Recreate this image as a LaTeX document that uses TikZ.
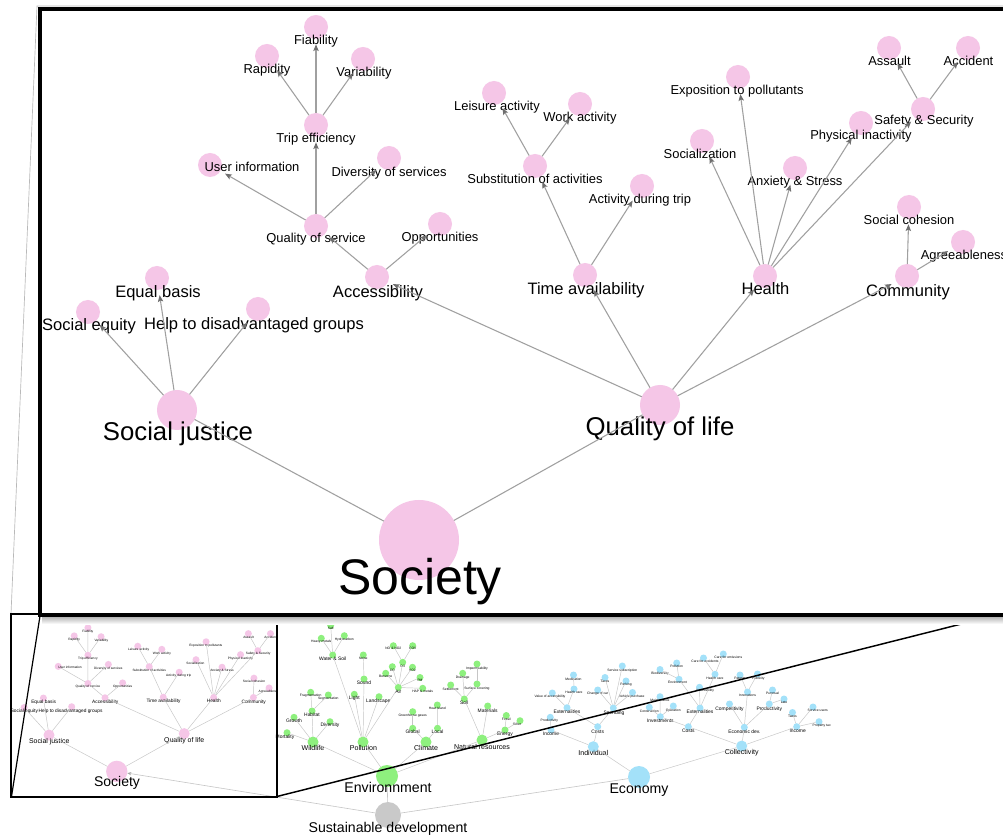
\documentclass[tikz,border=0pt]{standalone}
\usepackage{fontspec}
\setmainfont{Liberation Sans}
\usetikzlibrary{arrows.meta}
\definecolor{pk}{HTML}{F5C6E7}
\definecolor{gr}{HTML}{8EF07E}
\definecolor{bl}{HTML}{A3E1F9}
\definecolor{sdg}{HTML}{C9C9C9}
\definecolor{edg}{HTML}{A0A0A0}
\definecolor{tipc}{HTML}{6E6E6E}
\newcommand\fs[1]{\fontsize{#1}{#1}\selectfont}
\newcommand\tn[6]{\node[#1] (#2) at (#3) {}; \node[#4] at (#5) {#6};}
\tikzset{
  dot/.style={circle, inner sep=0pt, outer sep=0pt, draw=none},
  lbl/.style={inner sep=0pt, anchor=base, font=\fs{#1}, yshift=-0.33*#1, text=black},
  % big tree styles
  c0/.style={dot, fill=pk, minimum size=60pt},
  c1/.style={dot, fill=pk, minimum size=30pt},
  c2/.style={dot, fill=pk, minimum size=18pt},
  l0/.style={lbl=37.5pt},
  l1/.style={lbl=19.3pt},
  l2/.style={lbl=12.4pt},
  l3/.style={lbl=9.7pt},
  ed0/.style={draw=edg, line width=0.8pt},
  ed/.style={draw=edg, line width=0.8pt, -{Stealth[length=5pt,width=4pt,inset=1pt,color=tipc]}, shorten >=4pt},
  % overview styles
  sdc/.style={dot, fill=sdg, minimum size=19.5pt},
  g0/.style={dot, fill=gr, minimum size=16.5pt},
  g1/.style={dot, fill=gr, minimum size=8.25pt},
  g2/.style={dot, fill=gr, minimum size=5.25pt},
  b0/.style={dot, fill=bl, minimum size=16.5pt},
  b1/.style={dot, fill=bl, minimum size=8.25pt},
  b2/.style={dot, fill=bl, minimum size=5.25pt},
  o0/.style={lbl=10.6pt},
  o1/.style={lbl=5.3pt},
  o2/.style={lbl=3.7pt},
  o3/.style={lbl=2.5pt},
  oe/.style={draw=gray!45, line width=0.35pt},
}
\newcommand\SocTree{%
\tn{c0}{soc}{419,540}{l0}{420,578}{Society}
\tn{c1}{sj}{177,410}{l1}{178,432}{Social justice}
\tn{c1}{ql}{660,405}{l1}{660,427}{Quality of life}
\tn{c2}{seq}{88,312}{l2}{89,325}{Social equity}
\tn{c2}{eqb}{157,278}{l2}{158,292}{Equal basis}
\tn{c2}{hlp}{258,309}{l2}{254,324}{Help to disadvantaged groups}
\tn{c2}{acc}{377,277}{l2}{378,292}{Accessibility}
\tn{c2}{tav}{585,275}{l2}{586,289}{Time availability}
\tn{c2}{hea}{765,276}{l2}{765.5,289.5}{Health}
\tn{c2}{com}{907,276}{l2}{908,291}{Community}
\tn{c2}{qos}{316,226}{l3}{316,238}{Quality of service}
\tn{c2}{opp}{440,224}{l3}{440,237}{Opportunities}
\tn{c2}{uin}{210,165}{l3}{252,167}{User information}
\tn{c2}{dos}{389,158}{l3}{389,172}{Diversity of services}
\tn{c2}{tef}{316,125}{l3}{316,138}{Trip efficiency}
\tn{c2}{rap}{267,56}{l3}{267,69}{Rapidity}
\tn{c2}{fia}{316,27}{l3}{316,40}{Fiability}
\tn{c2}{var}{363,59}{l3}{364,72}{Variability}
\tn{c2}{sub}{535,166}{l3}{535,179}{Substitution of activities}
\tn{c2}{adt}{642,186}{l3}{640,199}{Activity during trip}
\tn{c2}{lei}{494,93}{l3}{497,106}{Leisure activity}
\tn{c2}{wor}{580,104}{l3}{580,117}{Work activity}
\tn{c2}{exq}{738,77}{l3}{737,90}{Exposition to pollutants}
\tn{c2}{soz}{702,141}{l3}{700,154}{Socialization}
\tn{c2}{anx}{795,168}{l3}{795,181}{Anxiety \& Stress}
\tn{c2}{phy}{861,123}{l3}{861,135.5}{Physical inactivity}
\tn{c2}{saf}{923,109}{l3}{924,120}{Safety \& Security}
\tn{c2}{ass}{889,48}{l3}{889.5,61.5}{Assault}
\tn{c2}{acd}{968,48}{l3}{968.5,61.5}{Accident}
\tn{c2}{coh}{909,207}{l3}{909,220}{Social cohesion}
\tn{c2}{agr}{963,242}{l3}{964,255}{Agreeableness}
\draw[ed0] (soc) -- (sj);
\draw[ed0] (soc) -- (ql);
\foreach \a/\b in {sj/seq,sj/eqb,sj/hlp,ql/acc,ql/tav,ql/hea,ql/com,acc/qos,acc/opp,qos/uin,qos/dos,qos/tef,tef/rap,tef/fia,tef/var,tav/sub,tav/adt,sub/lei,sub/wor,hea/exq,hea/soz,hea/anx,hea/phy,hea/saf,saf/ass,saf/acd,com/coh,com/agr}{\draw[ed] (\a) -- (\b);}
}
\begin{document}
\begin{tikzpicture}[x=0.75pt,y=-0.75pt]
\useasboundingbox[fill=white] (0,0) rectangle (1003,837);
% faint outer frame / upper connector
\draw[gray!55, line width=0.5pt] (11,614) -- (37,6) -- (1003,6);
% ---------- Environment ----------
\tn{g0}{env}{387,776}{o0}{388,788}{Environnment}
\tn{g1}{wil}{313,742}{o1}{313,748}{Wildlife}
\tn{g1}{pol}{363,742}{o1}{363.5,748}{Pollution}
\tn{g1}{cli}{426,742}{o1}{426,748}{Climate}
\tn{g1}{nat}{482,740}{o1}{482,747}{Natural resources}
\tn{g2}{mor}{287,732.7}{o2}{285,736.7}{Mortality}
\tn{g2}{gro}{294,717.3}{o2}{294,721}{Growth}
\tn{g2}{hab}{312,711}{o2}{312,714.5}{Habitat}
\tn{g2}{div}{330,721.7}{o2}{330,725}{Diversity}
\tn{g2}{fra}{310.7,692.3}{o3}{310.7,695}{Fragmentation}
\tn{g2}{seg}{328.3,695}{o3}{328.3,698.3}{Segmentation}
\tn{g2}{ws}{332.7,655}{o2}{332.7,659.3}{Water \& Soil}
\tn{g2}{lig}{354.3,694.3}{o2}{354.3,698}{Light}
\tn{g2}{sou}{364,679}{o2}{364,683}{Sound}
\tn{g2}{lan}{379,696.7}{o2}{378.3,701}{Landscape}
\tn{g2}{air}{398.3,687.5}{o2}{398.3,691.7}{Air}
\tn{g2}{salt}{330.7,625.5}{o3}{330.7,628.5}{Salt}
\tn{g2}{hm}{321.3,638.3}{o3}{321.3,641.7}{Heavy metals}
\tn{g2}{hyd}{344.3,635.7}{o3}{344.3,639}{Hydrocarbon}
\tn{g2}{noi}{363.3,655}{o3}{363.3,658.3}{Noise}
\tn{g2}{ozo}{402.7,662.3}{o3}{402.7,666.7}{O3}
\tn{g2}{cmo}{392.3,666.7}{o3}{392.3,670}{CO}
\tn{g2}{ben}{385.7,673.3}{o3}{385.7,676.3}{Benzene}
\tn{g2}{sox}{412.5,667.3}{o3}{412.5,670.5}{SO2}
\tn{g2}{pm}{420,677.5}{o3}{420,680.7}{PM}
\tn{g2}{hap}{422.7,688.3}{o3}{422.7,691.7}{HAP \& metals}
\tn{g2}{nox}{393.3,645.7}{o3}{393.3,648.7}{NO \& NO2}
\tn{g2}{cov}{412.7,645.7}{o3}{412.7,648.7}{COV}
\tn{g2}{glo}{412.7,728.3}{o2}{412.7,732}{Global}
\tn{g2}{loc}{437.5,728.3}{o2}{437.5,732.3}{Local}
\tn{g2}{ghg}{412.7,711.7}{o3}{412.7,715.5}{Greenhouse gases}
\tn{g2}{hi}{437.3,705}{o3}{437.3,708.5}{Heat island}
\tn{g2}{soi}{464.3,699}{o2}{464.3,703.3}{Soil}
\tn{g2}{mat}{487.7,706}{o2}{487.7,710.5}{Materials}
\tn{g2}{ene}{505,730}{o2}{505,734}{Energy}
\tn{g2}{set}{450.7,685}{o3}{450.7,689.3}{Settlement}
\tn{g2}{dra}{462.7,673.3}{o3}{462.7,677}{Drainage}
\tn{g2}{suc}{477,684}{o3}{477,688.3}{Surface covering}
\tn{g2}{imp}{477,664}{o3}{477,668.3}{Impermeability}
\tn{g2}{fos}{506.3,715.5}{o3}{506.3,719}{Fossil}
\tn{g2}{oth}{520,720.7}{o3}{517,724}{Other}
\foreach \a/\b in {env/wil,env/pol,env/cli,env/nat,wil/mor,wil/gro,wil/hab,wil/div,hab/fra,hab/seg,pol/ws,pol/lig,pol/sou,pol/lan,pol/air,ws/salt,ws/hm,ws/hyd,sou/noi,air/ozo,air/cmo,air/ben,air/sox,air/pm,air/hap,ozo/nox,ozo/cov,cli/glo,cli/loc,glo/ghg,loc/hi,nat/soi,nat/mat,nat/ene,soi/set,soi/dra,soi/suc,suc/imp,ene/fos,ene/oth}{\draw[oe] (\a) -- (\b);}
% ---------- Economy ----------
\tn{b0}{eco}{639,777}{o0}{639,789}{Economy}
\tn{b1}{ind}{593.3,746.7}{o1}{593.3,753.3}{Individual}
\tn{b1}{col}{741.7,746}{o1}{741.7,752.3}{Collectivity}
\tn{b2}{inc}{551,730}{o2}{551,734}{Income}
\tn{b2}{cos}{597.7,726.7}{o2}{597.7,731.5}{Costs}
\tn{b2}{pro}{550.3,717.3}{o3}{549.3,720.5}{Productivity}
\tn{b2}{ext}{567,707.7}{o2}{567,712}{Externalities}
\tn{b2}{spe}{613.3,708}{o2}{614,712.7}{Spending}
\tn{b2}{voa}{552.3,693}{o3}{550,696.7}{Value of accessibility}
\tn{b2}{hc}{574,689}{o3}{574,692.3}{Health care}
\tn{b2}{med}{573.5,675}{o3}{573.5,679.3}{Medication}
\tn{b2}{chg}{597.7,690}{o3}{597.7,693.3}{Change of car}
\tn{b2}{tx1}{605,677.5}{o3}{605,681.5}{Taxes}
\tn{b2}{ssb}{622.3,666}{o3}{622.3,670}{Service subscription}
\tn{b2}{prk}{626,681}{o3}{626,684.3}{Parking}
\tn{b2}{veh}{632.5,692.5}{o3}{631.7,696}{Vehicle purchase}
\tn{b2}{cco}{688.3,726.7}{o2}{688.3,730.7}{Costs}
\tn{b2}{edv}{744.3,727.3}{o2}{744.3,732.3}{Economic dev.}
\tn{b2}{cin}{796.7,726.7}{o2}{797.7,731}{Income}
\tn{b2}{inv}{660.3,716.7}{o2}{660.3,720.7}{Investments}
\tn{b2}{cex}{700,708}{o2}{700,712}{Externalities}
\tn{b2}{con}{649.3,707.3}{o3}{649.3,711}{Construction}
\tn{b2}{ope}{673.3,706}{o3}{673.3,710}{Operation}
\tn{b2}{mai}{660,696.7}{o3}{660,700}{Maintenance}
\tn{b2}{cen}{679,679.3}{o3}{677.5,682.7}{Environment}
\tn{b2}{chc}{715,674.3}{o3}{715,678.3}{Health care}
\tn{b2}{cac}{699.5,687.3}{o3}{705,690.7}{Accessibility}
\tn{b2}{cpo}{676.7,663}{o3}{676.7,666.5}{Pollution}
\tn{b2}{cbi}{660,669.5}{o3}{660,673.3}{Biodiversity}
\tn{b2}{caa}{703.5,658}{o3}{705,661.7}{Care for accidents}
\tn{b2}{cae}{723.3,654}{o3}{728.3,657.3}{Care for emissions}
\tn{b2}{cmp}{729.5,704}{o2}{729.5,708.5}{Competitivity}
\tn{b2}{cinn}{747.5,692}{o3}{747.5,695.5}{Innovations}
\tn{b2}{cpr}{769.3,704}{o2}{769.3,708.5}{Productivity}
\tn{b2}{pat}{740,675}{o3}{740,678.5}{Patents}
\tn{b2}{pub}{757.5,674}{o3}{758.3,678}{Publicity}
\tn{b2}{pun}{772.5,690}{o3}{772.5,693.3}{Punctual}
\tn{b2}{lat}{784,699}{o3}{784,702.3}{Late}
\tn{b2}{tax}{792.5,712.5}{o3}{792.5,716.7}{Taxes}
\tn{b2}{svu}{813,707}{o3}{817.7,710.7}{Service users}
\tn{b2}{ptx}{819,721.7}{o3}{821.7,725.7}{Property tax}
\foreach \a/\b in {eco/ind,eco/col,ind/inc,ind/cos,inc/pro,cos/ext,cos/spe,ext/voa,ext/hc,hc/med,spe/chg,spe/tx1,spe/ssb,spe/prk,spe/veh,col/cco,col/edv,col/cin,cco/inv,cco/cex,inv/con,inv/ope,inv/mai,cex/cen,cex/chc,cex/cac,cen/cpo,cen/cbi,chc/caa,chc/cae,edv/cmp,edv/cinn,edv/cpr,cinn/pat,cinn/pub,cpr/pun,cpr/lat,cin/tax,cin/svu,cin/ptx}{\draw[oe] (\a) -- (\b);}
% ---------- mini society ----------
\begin{scope}
\clip (11,614) rectangle (277,797);
\begin{scope}[shift={(-0.56,620.2)}, scale=0.28, name prefix=m-,
  c0/.style={dot, fill=pk, minimum size=16pt},
  c1/.style={dot, fill=pk, minimum size=8.25pt},
  c2/.style={dot, fill=pk, minimum size=5.25pt},
  l0/.style={lbl=10.5pt}, l1/.style={lbl=5.2pt}, l2/.style={lbl=3.6pt}, l3/.style={lbl=2.4pt},
  ed0/.style={oe}, ed/.style={oe}]
\SocTree
\end{scope}
\end{scope}
% ---------- sustainable development ----------
\tn{sdc}{sd}{388,815}{o0}{388,828}{Sustainable development}
\draw[oe, line width=0.45pt] (sd) -- (env);
\draw[oe, line width=0.45pt] (sd) -- (eco);
\draw[oe, line width=0.45pt, -{Stealth[length=3pt,width=2.4pt,color=gray!70]}] (sd) -- (m-soc);
% ---------- frames ----------
\draw[line width=0.9pt] (11,614) rectangle (277,797);
\draw[line width=0.9pt] (40,616) -- (11.5,796.5);
\draw[line width=1.1pt] (277,796.5) -- (1003,613.5);
\shade[top color=gray!65, bottom color=white, draw=none] (42,616) rectangle (1003,624);
\draw[line width=3pt, fill=white] (40,9.5) rectangle (1015,614.5);
% ---------- big society tree ----------
\SocTree
\end{tikzpicture}
\end{document}
